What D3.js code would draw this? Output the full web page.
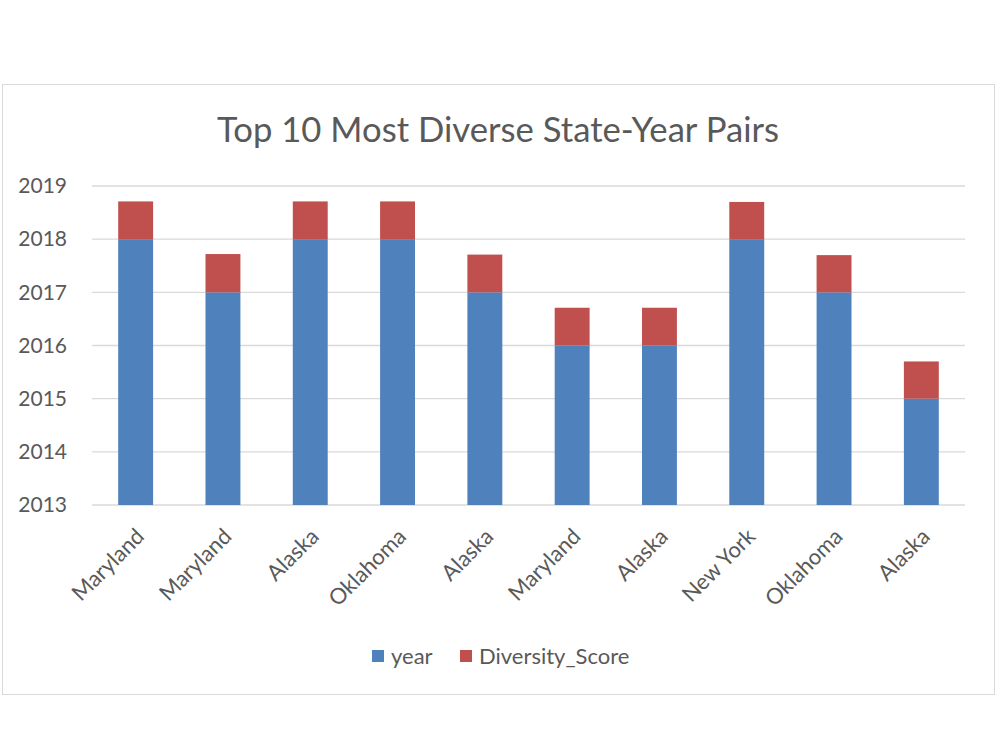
<!DOCTYPE html>
<html><head><meta charset="utf-8">
<script src="https://cdn.jsdelivr.net/npm/d3@7"></script>
<style>body{margin:0;background:#fff;} text{font-family:Lato,"Open Sans",sans-serif;}</style>
</head><body>
<svg id="chart" width="1000" height="750"></svg>
<script>
const states = ["Maryland","Maryland","Alaska","Oklahoma","Alaska","Maryland","Alaska","New York","Oklahoma","Alaska"];
const years = [2018,2017,2018,2018,2017,2016,2016,2018,2017,2015];
const diversityScores = [0.71,0.72,0.71,0.71,0.71,0.71,0.71,0.70,0.70,0.70];
const yTicks = [2013,2014,2015,2016,2017,2018,2019];
const seriesNames = ["year","Diversity_Score"];
const colors = ["#4f81bd","#c0504d"];

const svg = d3.select("#chart");
svg.append("rect").attr("x",2.5).attr("y",84.5).attr("width",992).attr("height",610)
  .attr("fill","#fff").attr("stroke","#d9d9d9").attr("stroke-width",1);

const pLeft=92, pRight=965, pTop=186, pBottom=505;
const x = d3.scaleBand().domain(d3.range(states.length)).range([pLeft,pRight]).paddingInner(0.6).paddingOuter(0.3);
const y = d3.scaleLinear().domain([2013,2019]).range([pBottom,pTop]);

svg.append("text").attr("x",498).attr("y",142).attr("text-anchor","middle")
  .attr("font-size",34).attr("fill","#595959")
  .attr("textLength",562).attr("lengthAdjust","spacingAndGlyphs")
  .text("Top 10 Most Diverse State-Year Pairs");

// gridlines
svg.append("g").selectAll("line").data(yTicks).join("line")
  .attr("x1",pLeft).attr("x2",pRight).attr("y1",d=>y(d)).attr("y2",d=>y(d))
  .attr("stroke","#d9d9d9").attr("stroke-width",1.3);

// y axis labels
const yAxis = d3.axisLeft(y).tickValues(yTicks).tickFormat(d3.format("d")).tickSize(0).tickPadding(0);
const gy = svg.append("g").attr("transform",`translate(67,0)`).call(yAxis);
gy.select(".domain").remove();
gy.selectAll("text").attr("font-size",21).attr("fill","#595959").attr("font-family","Lato,'Open Sans',sans-serif");

const data = states.map((s,i)=>({i, state:s, year:years[i], Diversity_Score:diversityScores[i]}));
const stacked = seriesNames.map((k,si)=>data.map(d=>{
  const y0 = si===0 ? y.domain()[0] : d.year;
  const y1 = si===0 ? d.year : d.year + d.Diversity_Score;
  return {i:d.i, y0, y1};
}));
svg.append("g").selectAll("g").data(stacked).join("g").attr("fill",(d,i)=>colors[i])
  .selectAll("rect").data(d=>d).join("rect")
  .attr("x",d=>x(d.i)).attr("width",x.bandwidth())
  .attr("y",d=>y(d.y1)).attr("height",d=>y(d.y0)-y(d.y1));

// x labels
svg.append("g").selectAll("text").data(data).join("text")
  .attr("transform",d=>`translate(${x(d.i)+x.bandwidth()/2-1},${pBottom+22}) rotate(-45)`)
  .attr("text-anchor","end").attr("font-size",22).attr("fill","#595959")
  .attr("dy","0.7em")
  .text(d=>d.state);

// legend
const legend = svg.append("g");
const items = [{name:seriesNames[0],x:372,c:colors[0]},{name:seriesNames[1],x:460,c:colors[1]}];
items.forEach(it=>{
  legend.append("rect").attr("x",it.x).attr("y",650).attr("width",12).attr("height",12).attr("fill",it.c);
  legend.append("text").attr("x",it.x+19).attr("y",664).attr("font-size",22).attr("fill","#595959").text(it.name);
});
</script>
</body></html>
